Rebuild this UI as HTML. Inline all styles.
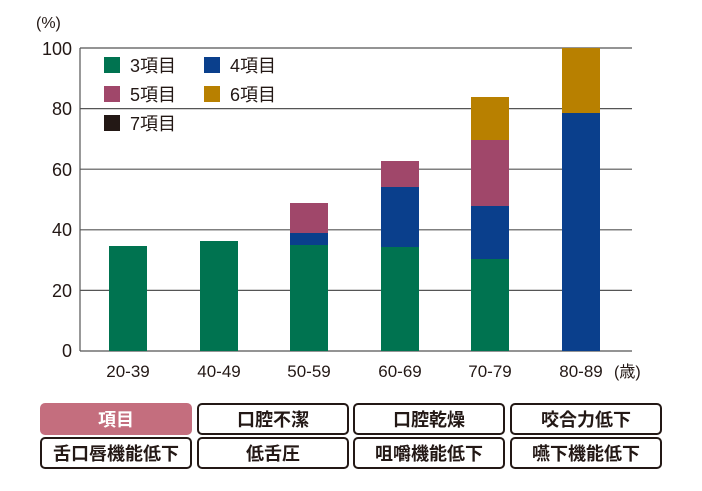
<!DOCTYPE html><html><head><meta charset="utf-8"><style>
body{margin:0;background:#fff;width:702px;height:491px;overflow:hidden;font-family:"Liberation Sans","Noto Sans CJK JP",sans-serif}
.b{position:absolute;box-sizing:border-box;border:2px solid #231815;border-radius:5px;display:flex;align-items:center;justify-content:center;font-weight:bold;font-size:18px;color:#231815;width:152px;height:32px;white-space:nowrap}
</style></head><body>
<svg width="702" height="400" style="position:absolute;left:0;top:0" font-family="Liberation Sans, Noto Sans CJK JP, sans-serif">
<g stroke="#555" stroke-width="1.2">
<line x1="80" y1="48" x2="632" y2="48"/><line x1="80" y1="108.6" x2="632" y2="108.6"/><line x1="80" y1="169.2" x2="632" y2="169.2"/><line x1="80" y1="229.8" x2="632" y2="229.8"/><line x1="80" y1="290.4" x2="632" y2="290.4"/><line x1="80" y1="351" x2="632" y2="351"/><line x1="80" y1="48" x2="80" y2="351"/></g>
<g font-size="18" fill="#231815" text-anchor="end"><text x="72" y="55">100</text><text x="72" y="115">80</text><text x="72" y="176">60</text><text x="72" y="236">40</text><text x="72" y="297">20</text><text x="72" y="357">0</text></g>
<text x="36" y="28" font-size="16" fill="#231815">(%)</text>
<g font-size="17" fill="#231815" text-anchor="middle"><text x="128" y="377">20-39</text><text x="219" y="377">40-49</text><text x="309" y="377">50-59</text><text x="400" y="377">60-69</text><text x="490" y="377">70-79</text><text x="581" y="377">80-89</text></g>
<text x="614" y="377" font-size="16" fill="#231815">(歳)</text>
<g>
<rect x="109" y="246" width="38" height="105" fill="#007350"/>
<rect x="200" y="241" width="38" height="110" fill="#007350"/>
<rect x="290" y="245" width="38" height="106" fill="#007350"/><rect x="290" y="233" width="38" height="12" fill="#0a3f8c"/><rect x="290" y="203" width="38" height="30" fill="#a0476a"/>
<rect x="381" y="247" width="38" height="104" fill="#007350"/><rect x="381" y="187" width="38" height="60" fill="#0a3f8c"/><rect x="381" y="161" width="38" height="26" fill="#a0476a"/>
<rect x="471" y="259" width="38" height="92" fill="#007350"/><rect x="471" y="206" width="38" height="53" fill="#0a3f8c"/><rect x="471" y="140" width="38" height="66" fill="#a0476a"/><rect x="471" y="97" width="38" height="43" fill="#b88000"/>
<rect x="562" y="113" width="38" height="238" fill="#0a3f8c"/><rect x="562" y="48" width="38" height="65" fill="#b88000"/>
</g>
<g font-size="18" fill="#231815">
<rect x="104" y="57" width="16" height="16" fill="#007350"/><text x="130" y="72">3項目</text>
<rect x="204" y="57" width="16" height="16" fill="#0a3f8c"/><text x="230" y="72">4項目</text>
<rect x="104" y="86" width="16" height="16" fill="#a0476a"/><text x="130" y="101">5項目</text>
<rect x="204" y="86" width="16" height="16" fill="#b88000"/><text x="230" y="101">6項目</text>
<rect x="104" y="115" width="16" height="16" fill="#231815"/><text x="130" y="130">7項目</text>
</g></svg>
<div class="b" style="left:40px;top:403px;background:#c46e7e;border-color:#c46e7e;color:#fff">項目</div>
<div class="b" style="left:197px;top:403px">口腔不潔</div>
<div class="b" style="left:353px;top:403px">口腔乾燥</div>
<div class="b" style="left:510px;top:403px">咬合力低下</div>
<div class="b" style="left:40px;top:437px">舌口唇機能低下</div>
<div class="b" style="left:197px;top:437px">低舌圧</div>
<div class="b" style="left:353px;top:437px">咀嚼機能低下</div>
<div class="b" style="left:510px;top:437px">嚥下機能低下</div>
</body></html>
